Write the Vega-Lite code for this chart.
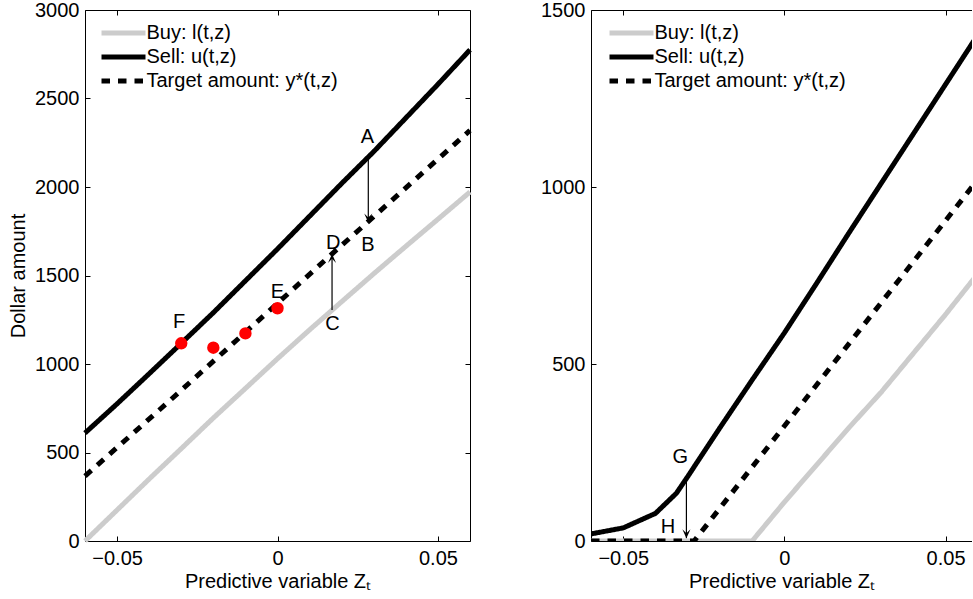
{
  "$schema": "https://vega.github.io/schema/vega-lite/v6.json",
  "padding": {"left": 8, "top": 0, "right": 0, "bottom": 0},
  "background": "white",
  "datasets": {
    "left_lines": [
      {"z": -0.06, "amt": 0, "s": "Buy: l(t,z)"},
      {"z": -0.05, "amt": 175, "s": "Buy: l(t,z)"},
      {"z": -0.04, "amt": 350, "s": "Buy: l(t,z)"},
      {"z": -0.03, "amt": 522, "s": "Buy: l(t,z)"},
      {"z": -0.02, "amt": 695, "s": "Buy: l(t,z)"},
      {"z": -0.01, "amt": 862, "s": "Buy: l(t,z)"},
      {"z": 0, "amt": 1030, "s": "Buy: l(t,z)"},
      {"z": 0.01, "amt": 1193, "s": "Buy: l(t,z)"},
      {"z": 0.02, "amt": 1352, "s": "Buy: l(t,z)"},
      {"z": 0.03, "amt": 1510, "s": "Buy: l(t,z)"},
      {"z": 0.04, "amt": 1665, "s": "Buy: l(t,z)"},
      {"z": 0.05, "amt": 1818, "s": "Buy: l(t,z)"},
      {"z": 0.06, "amt": 1972, "s": "Buy: l(t,z)"},
      {"z": -0.06, "amt": 610, "s": "Sell: u(t,z)"},
      {"z": -0.05, "amt": 775, "s": "Sell: u(t,z)"},
      {"z": -0.04, "amt": 945, "s": "Sell: u(t,z)"},
      {"z": -0.03, "amt": 1117, "s": "Sell: u(t,z)"},
      {"z": -0.02, "amt": 1290, "s": "Sell: u(t,z)"},
      {"z": -0.01, "amt": 1470, "s": "Sell: u(t,z)"},
      {"z": 0, "amt": 1650, "s": "Sell: u(t,z)"},
      {"z": 0.01, "amt": 1835, "s": "Sell: u(t,z)"},
      {"z": 0.02, "amt": 2020, "s": "Sell: u(t,z)"},
      {"z": 0.03, "amt": 2200, "s": "Sell: u(t,z)"},
      {"z": 0.04, "amt": 2390, "s": "Sell: u(t,z)"},
      {"z": 0.05, "amt": 2580, "s": "Sell: u(t,z)"},
      {"z": 0.06, "amt": 2775, "s": "Sell: u(t,z)"},
      {"z": -0.06, "amt": 367, "s": "Target amount: y*(t,z)"},
      {"z": -0.035, "amt": 770, "s": "Target amount: y*(t,z)"},
      {"z": 0, "amt": 1343, "s": "Target amount: y*(t,z)"},
      {"z": 0.017, "amt": 1622, "s": "Target amount: y*(t,z)"},
      {"z": 0.028, "amt": 1800, "s": "Target amount: y*(t,z)"},
      {"z": 0.06, "amt": 2320, "s": "Target amount: y*(t,z)"}
    ],
    "left_dots": [
      {"z": -0.03, "amt": 1117},
      {"z": -0.02, "amt": 1092},
      {"z": -0.01, "amt": 1173},
      {"z": 0, "amt": 1315}
    ],
    "left_arrows": [
      {"z": 0.0283, "amt": 2167, "amt2": 1800, "dir": "down"},
      {"z": 0.017, "amt": 1305, "amt2": 1622, "dir": "up"}
    ],
    "left_labels": [
      {"z": 0.028, "amt": 2280, "lab": "A"},
      {"z": 0.0282, "amt": 1672, "lab": "B"},
      {"z": 0.0171, "amt": 1226, "lab": "C"},
      {"z": 0.0174, "amt": 1685, "lab": "D"},
      {"z": 0, "amt": 1409, "lab": "E"},
      {"z": -0.0307, "amt": 1239, "lab": "F"}
    ],
    "right_lines": [
      {"z": -0.06, "amt": 0, "s": "Buy: l(t,z)"},
      {"z": -0.01, "amt": 0, "s": "Buy: l(t,z)"},
      {"z": 0, "amt": 110, "s": "Buy: l(t,z)"},
      {"z": 0.01, "amt": 215, "s": "Buy: l(t,z)"},
      {"z": 0.02, "amt": 320, "s": "Buy: l(t,z)"},
      {"z": 0.03, "amt": 420, "s": "Buy: l(t,z)"},
      {"z": 0.04, "amt": 530, "s": "Buy: l(t,z)"},
      {"z": 0.05, "amt": 640, "s": "Buy: l(t,z)"},
      {"z": 0.06, "amt": 755, "s": "Buy: l(t,z)"},
      {"z": -0.06, "amt": 20, "s": "Sell: u(t,z)"},
      {"z": -0.05, "amt": 37, "s": "Sell: u(t,z)"},
      {"z": -0.04, "amt": 78, "s": "Sell: u(t,z)"},
      {"z": -0.0335, "amt": 135, "s": "Sell: u(t,z)"},
      {"z": -0.03, "amt": 182, "s": "Sell: u(t,z)"},
      {"z": -0.02, "amt": 320, "s": "Sell: u(t,z)"},
      {"z": -0.01, "amt": 455, "s": "Sell: u(t,z)"},
      {"z": 0, "amt": 588, "s": "Sell: u(t,z)"},
      {"z": 0.01, "amt": 728, "s": "Sell: u(t,z)"},
      {"z": 0.02, "amt": 870, "s": "Sell: u(t,z)"},
      {"z": 0.03, "amt": 1010, "s": "Sell: u(t,z)"},
      {"z": 0.04, "amt": 1150, "s": "Sell: u(t,z)"},
      {"z": 0.05, "amt": 1290, "s": "Sell: u(t,z)"},
      {"z": 0.06, "amt": 1430, "s": "Sell: u(t,z)"},
      {"z": -0.06, "amt": 0, "s": "Target amount: y*(t,z)"},
      {"z": -0.028, "amt": 0, "s": "Target amount: y*(t,z)"},
      {"z": 0, "amt": 325, "s": "Target amount: y*(t,z)"},
      {"z": 0.03, "amt": 673, "s": "Target amount: y*(t,z)"},
      {"z": 0.06, "amt": 1021, "s": "Target amount: y*(t,z)"}
    ],
    "right_arrows": [
      {"z": -0.0304, "amt": 182, "amt2": 8, "dir": "down"}
    ],
    "right_labels": [
      {"z": -0.0323, "amt": 236, "lab": "G"},
      {"z": -0.0361, "amt": 40, "lab": "H"}
    ]
  },
  "config": {
    "font": "Liberation Sans",
    "view": {"stroke": null},
    "axis": {
      "grid": false,
      "domainColor": "#000000",
      "domainWidth": 1,
      "tickColor": "#000000",
      "tickSize": -5,
      "tickWidth": 1,
      "labelFont": "Liberation Sans",
      "labelFontSize": 20,
      "labelColor": "#000000",
      "titleFont": "Liberation Sans",
      "titleFontSize": 20,
      "titleFontWeight": "normal",
      "titleColor": "#000000",
      "labelFlush": false,
      "labelOverlap": false
    },
    "axisX": {"labelPadding": 12, "titlePadding": 3},
    "axisY": {"labelPadding": 11, "titlePadding": 6},
    "legend": {
      "orient": "none",
      "title": null,
      "labelFont": "Liberation Sans",
      "labelFontSize": 20,
      "labelColor": "#000000",
      "labelLimit": 0,
      "padding": 0,
      "rowPadding": 4,
      "symbolSize": 100,
      "symbolStrokeWidth": 5,
      "labelOffset": 13
    }
  },
  "hconcat": [
    {
      "width": 385,
      "height": 531,
      "encoding": {
        "x": {"field": "z", "type": "quantitative", "scale": {"domain": [-0.06, 0.06], "nice": false, "zero": false}, "axis": null},
        "y": {"field": "amt", "type": "quantitative", "scale": {"domain": [0, 3000], "nice": false, "zero": false}, "axis": null}
      },
      "layer": [
        {
          "data": {"name": "left_lines"},
          "mark": {"type": "line", "opacity": 0},
          "encoding": {
            "x": {"field": "z", "type": "quantitative", "scale": {"domain": [-0.06, 0.06], "nice": false, "zero": false},
                  "axis": {"orient": "top", "values": [-0.05, 0, 0.05], "labels": false, "title": null}},
            "y": {"field": "amt", "type": "quantitative", "scale": {"domain": [0, 3000], "nice": false, "zero": false},
                  "axis": {"orient": "right", "values": [0, 500, 1000, 1500, 2000, 2500, 3000], "labels": false, "title": null}}
          }
        },
        {
          "data": {"name": "left_lines"},
          "mark": {"type": "line", "strokeWidth": 5, "strokeCap": "butt"},
          "encoding": {
            "x": {"field": "z", "type": "quantitative", "scale": {"domain": [-0.06, 0.06], "nice": false, "zero": false},
                  "axis": {"orient": "bottom", "values": [-0.05, 0, 0.05], "format": ".2~f", "title": "Predictive variable Zₜ"}},
            "y": {"field": "amt", "type": "quantitative", "scale": {"domain": [0, 3000], "nice": false, "zero": false},
                  "axis": {"orient": "left", "values": [0, 500, 1000, 1500, 2000, 2500, 3000], "format": "d", "title": "Dollar amount"}},
            "color": {"field": "s", "type": "nominal",
                      "scale": {"domain": ["Buy: l(t,z)", "Sell: u(t,z)", "Target amount: y*(t,z)"], "range": ["#cccccc", "#000000", "#000000"]},
                      "legend": {"orient": "none", "legendX": 28.5, "legendY": 13, "symbolType": "M-4.4,0H4.4", "symbolSize": 100, "symbolStrokeWidth": 5}},
            "strokeDash": {"field": "s", "type": "nominal",
                      "scale": {"domain": ["Buy: l(t,z)", "Sell: u(t,z)", "Target amount: y*(t,z)"], "range": [[1, 0], [1, 0], [8.5, 8]]},
                      "legend": {"orient": "none", "legendX": 28.5, "legendY": 13, "symbolType": "M-4.4,0H4.4", "symbolSize": 100, "symbolStrokeWidth": 5}}
          }
        },
        {
          "data": {"name": "left_dots"},
          "mark": {"type": "circle", "color": "#ff0000", "opacity": 1, "size": 154}
        },
        {
          "data": {"name": "left_arrows"},
          "mark": {"type": "rule", "color": "#000000", "strokeWidth": 1.2},
          "encoding": {"y2": {"field": "amt2"}}
        },
        {
          "data": {"name": "left_arrows"},
          "mark": {"type": "point", "filled": true, "color": "#000000", "opacity": 1, "size": 324, "strokeWidth": 0},
          "encoding": {
            "y": {"field": "amt2", "type": "quantitative", "scale": {"domain": [0, 3000], "nice": false, "zero": false}, "axis": null},
            "shape": {"field": "dir", "type": "nominal",
                      "scale": {"domain": ["down", "up"], "range": ["M-0.45,-1L0,0L0.45,-1L0,-0.55Z", "M-0.45,1L0,0L0.45,1L0,0.55Z"]},
                      "legend": null}
          }
        },
        {
          "data": {"name": "left_labels"},
          "mark": {"type": "text", "font": "Liberation Sans", "fontSize": 20, "align": "center", "baseline": "middle", "color": "#000000"},
          "encoding": {"text": {"field": "lab", "type": "nominal"}}
        }
      ],
      "resolve": {"axis": {"x": "independent", "y": "independent"}}
    },
    {
      "width": 381,
      "height": 531,
      "encoding": {
        "x": {"field": "z", "type": "quantitative", "scale": {"domain": [-0.06, 0.0582], "nice": false, "zero": false}, "axis": null},
        "y": {"field": "amt", "type": "quantitative", "scale": {"domain": [0, 1500], "nice": false, "zero": false}, "axis": null}
      },
      "layer": [
        {
          "data": {"name": "right_lines"},
          "mark": {"type": "line", "opacity": 0, "clip": true},
          "encoding": {
            "x": {"field": "z", "type": "quantitative", "scale": {"domain": [-0.06, 0.0582], "nice": false, "zero": false},
                  "axis": {"orient": "top", "values": [-0.05, 0, 0.05], "labels": false, "title": null}}
          }
        },
        {
          "data": {"name": "right_lines"},
          "mark": {"type": "line", "strokeWidth": 5, "strokeCap": "butt", "clip": true},
          "encoding": {
            "x": {"field": "z", "type": "quantitative", "scale": {"domain": [-0.06, 0.0582], "nice": false, "zero": false},
                  "axis": {"orient": "bottom", "values": [-0.05, 0, 0.05], "format": ".2~f", "title": "Predictive variable Zₜ"}},
            "y": {"field": "amt", "type": "quantitative", "scale": {"domain": [0, 1500], "nice": false, "zero": false},
                  "axis": {"orient": "left", "values": [0, 500, 1000, 1500], "format": "d", "title": null}},
            "color": {"field": "s", "type": "nominal",
                      "scale": {"domain": ["Buy: l(t,z)", "Sell: u(t,z)", "Target amount: y*(t,z)"], "range": ["#cccccc", "#000000", "#000000"]},
                      "legend": {"orient": "none", "legendX": 30.5, "legendY": 13, "symbolType": "M-4.4,0H4.4", "symbolSize": 100, "symbolStrokeWidth": 5}},
            "strokeDash": {"field": "s", "type": "nominal",
                      "scale": {"domain": ["Buy: l(t,z)", "Sell: u(t,z)", "Target amount: y*(t,z)"], "range": [[1, 0], [1, 0], [8.5, 8]]},
                      "legend": {"orient": "none", "legendX": 30.5, "legendY": 13, "symbolType": "M-4.4,0H4.4", "symbolSize": 100, "symbolStrokeWidth": 5}}
          }
        },
        {
          "data": {"name": "right_arrows"},
          "mark": {"type": "rule", "color": "#000000", "strokeWidth": 1.2},
          "encoding": {"y2": {"field": "amt2"}}
        },
        {
          "data": {"name": "right_arrows"},
          "mark": {"type": "point", "filled": true, "color": "#000000", "opacity": 1, "size": 324, "strokeWidth": 0},
          "encoding": {
            "y": {"field": "amt2", "type": "quantitative", "scale": {"domain": [0, 1500], "nice": false, "zero": false}, "axis": null},
            "shape": {"field": "dir", "type": "nominal",
                      "scale": {"domain": ["down", "up"], "range": ["M-0.45,-1L0,0L0.45,-1L0,-0.55Z", "M-0.45,1L0,0L0.45,1L0,0.55Z"]},
                      "legend": null}
          }
        },
        {
          "data": {"name": "right_labels"},
          "mark": {"type": "text", "font": "Liberation Sans", "fontSize": 20, "align": "center", "baseline": "middle", "color": "#000000"},
          "encoding": {"text": {"field": "lab", "type": "nominal"}}
        }
      ],
      "resolve": {"axis": {"x": "independent", "y": "independent"}}
    }
  ],
  "spacing": 121,
  "bounds": "flush",
  "resolve": {"scale": {"color": "independent", "strokeDash": "independent"}}
}
